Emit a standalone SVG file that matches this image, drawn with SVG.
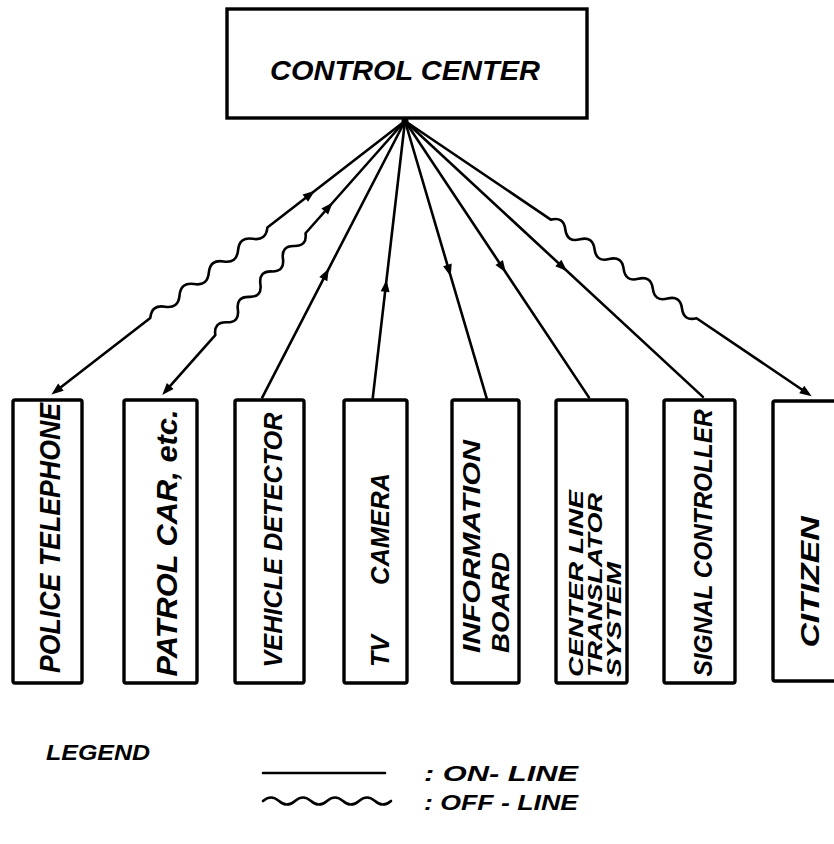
<svg xmlns="http://www.w3.org/2000/svg" xmlns:xlink="http://www.w3.org/1999/xlink" width="834" height="844" viewBox="0 0 834 844">
<style>
.box{fill:#fff;stroke:#000;stroke-width:3.4}
.ln{fill:none;stroke:#000;stroke-width:2.6;stroke-linejoin:round;stroke-linecap:round}
.t{font-family:"Liberation Sans","DejaVu Sans",sans-serif;font-style:italic;font-weight:bold;fill:#000}
.c{text-anchor:middle;dominant-baseline:central}
.s{text-anchor:start;dominant-baseline:central}
</style>
<defs>
<path id="ah" d="M0,0 L-12,-4.5 L-12,4.5 Z" fill="#000"/>
</defs>
<rect width="834" height="844" fill="#fff"/>

<g id="control-center">
<rect class="box" x="227" y="9" width="360" height="109"/>
<text class="t c" x="405" y="70" font-size="28" textLength="270" lengthAdjust="spacingAndGlyphs">CONTROL CENTER</text>
</g>

<g id="connectors">
<circle cx="405" cy="121" r="3.5" fill="#000"/>
<g transform="translate(405,121) rotate(142.28)">
<path class="ln" d="M0,0 L174,0 q9.25,-10 18.5,0 t18.5,0 t18.5,0 t18.5,0 t18.5,0 t18.5,0 t18.5,0 t18.5,0 L440,0"/>
<use xlink:href="#ah" transform="translate(114,0) rotate(180)"/>
<use xlink:href="#ah" transform="translate(447,0)"/>
</g>
<g transform="translate(405,121) rotate(131.55)">
<path class="ln" d="M0,0 L150,0 q8.5,-10 17,0 t17,0 t17,0 t17,0 t17,0 t17,0 t17,0 t17,0 L359,0"/>
<use xlink:href="#ah" transform="translate(109,0) rotate(180)"/>
<use xlink:href="#ah" transform="translate(366,0)"/>
</g>
<g transform="translate(405,121) rotate(117.31)">
<path class="ln" d="M0,0 L311,0"/>
<use xlink:href="#ah" transform="translate(166,0) rotate(180)"/>
</g>
<g transform="translate(405,121) rotate(96.64)">
<path class="ln" d="M0,0 L279,0"/>
<use xlink:href="#ah" transform="translate(160,0) rotate(180)"/>
</g>
<g transform="translate(405,121) rotate(73.59)">
<path class="ln" d="M0,0 L289,0"/>
<use xlink:href="#ah" transform="translate(162,0)"/>
</g>
<g transform="translate(405,121) rotate(56.36)">
<path class="ln" d="M0,0 L332,0"/>
<use xlink:href="#ah" transform="translate(182,0)"/>
</g>
<g transform="translate(405,121) rotate(42.8)">
<path class="ln" d="M0,0 L406,0"/>
<use xlink:href="#ah" transform="translate(221,0)"/>
</g>
<g transform="translate(405,121) rotate(34.08)">
<path class="ln" d="M0,0 L176,0 q8.8,-10 17.6,0 t17.6,0 t17.6,0 t17.6,0 t17.6,0 t17.6,0 t17.6,0 t17.6,0 t17.6,0 t17.6,0 L484,0"/>
<use xlink:href="#ah" transform="translate(491,0)"/>
</g>
</g>

<g id="police-telephone">
<rect class="box" x="13" y="400" width="69" height="283" rx="2"/>
<text class="t c" transform="translate(50,538) rotate(-90)" font-size="29" textLength="270" lengthAdjust="spacingAndGlyphs">POLICE TELEPHONE</text>
</g>
<g id="patrol-car">
<rect class="box" x="124" y="400" width="73" height="283" rx="2"/>
<text class="t c" transform="translate(167,543) rotate(-90)" font-size="29" textLength="267" lengthAdjust="spacingAndGlyphs">PATROL CAR, etc.</text>
</g>
<g id="vehicle-detector">
<rect class="box" x="235" y="400" width="69" height="283" rx="2"/>
<text class="t c" transform="translate(273,540) rotate(-90)" font-size="26" textLength="255" lengthAdjust="spacingAndGlyphs">VEHICLE DETECTOR</text>
</g>
<g id="tv-camera">
<rect class="box" x="344" y="400" width="63" height="283" rx="2"/>
<text class="t s" transform="translate(380,667) rotate(-90)" font-size="26"><tspan textLength="32" lengthAdjust="spacingAndGlyphs">TV</tspan> <tspan x="82" textLength="112" lengthAdjust="spacingAndGlyphs">CAMERA</tspan></text>
</g>
<g id="information-board">
<rect class="box" x="452" y="400" width="67" height="283" rx="2"/>
<text class="t s" transform="translate(471,653) rotate(-90)" font-size="24" textLength="213" lengthAdjust="spacingAndGlyphs">INFORMATION</text>
<text class="t s" transform="translate(500,653) rotate(-90)" font-size="24" textLength="101" lengthAdjust="spacingAndGlyphs">BOARD</text>
</g>
<g id="center-line-translator-system">
<rect class="box" x="556" y="400" width="71" height="283" rx="2"/>
<text class="t s" transform="translate(575,677) rotate(-90)" font-size="21" textLength="187" lengthAdjust="spacingAndGlyphs">CENTER LINE</text>
<text class="t s" transform="translate(594,677) rotate(-90)" font-size="21" textLength="184" lengthAdjust="spacingAndGlyphs">TRANSLATOR</text>
<text class="t s" transform="translate(613,677) rotate(-90)" font-size="21" textLength="115" lengthAdjust="spacingAndGlyphs">SYSTEM</text>
</g>
<g id="signal-controller">
<rect class="box" x="664" y="400" width="71" height="283" rx="2"/>
<text class="t c" transform="translate(703,543) rotate(-90)" font-size="26" textLength="267" lengthAdjust="spacingAndGlyphs">SIGNAL CONTROLLER</text>
</g>
<g id="citizen">
<rect class="box" x="773" y="401" width="70" height="280" rx="2"/>
<text class="t c" transform="translate(810,582) rotate(-90)" font-size="26" textLength="131" lengthAdjust="spacingAndGlyphs">CITIZEN</text>
</g>

<g id="legend">
<text class="t s" x="46" y="752" font-size="22" textLength="104" lengthAdjust="spacingAndGlyphs">LEGEND</text>
<path class="ln" d="M263,773 L385,773"/>
<text class="t s" x="424" y="773" font-size="22" textLength="154" lengthAdjust="spacingAndGlyphs">: ON- LINE</text>
<path class="ln" d="M263,801 q8,-7 16,0 t16,0 t16,0 t16,0 t16,0 t16,0 t16,0 t16,0"/>
<text class="t s" x="424" y="802" font-size="22" textLength="154" lengthAdjust="spacingAndGlyphs">: OFF - LINE</text>
</g>
</svg>
